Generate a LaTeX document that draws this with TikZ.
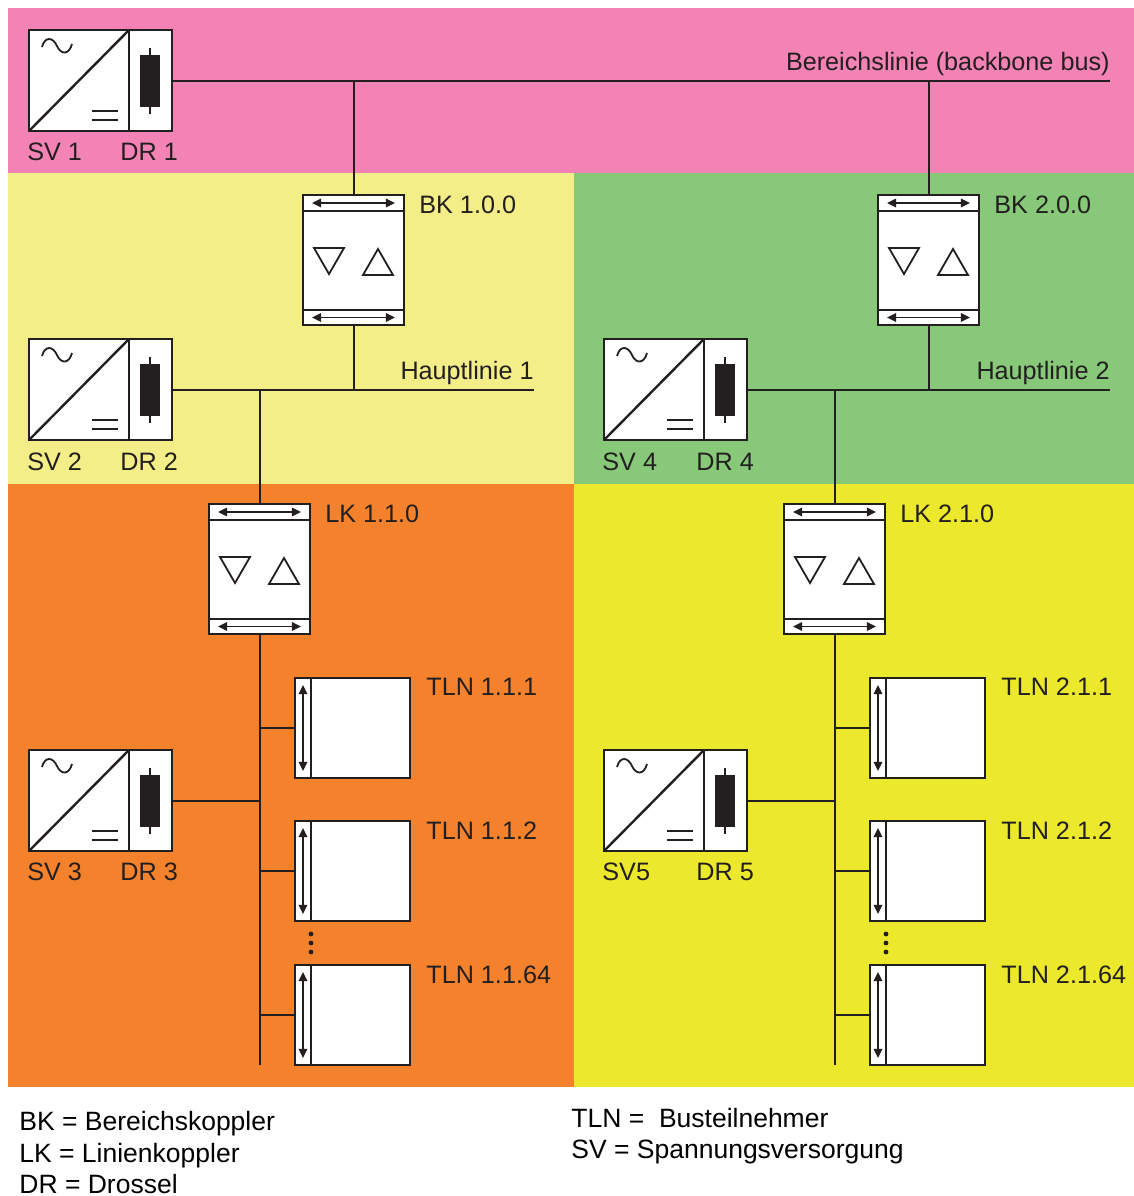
\documentclass[tikz,border=0pt]{standalone}
\usepackage{fontspec}
\setmainfont{Liberation Sans}
\usetikzlibrary{arrows.meta}
\definecolor{cpink}{HTML}{F283B4}
\definecolor{clyel}{HTML}{F3EE88}
\definecolor{cgreen}{HTML}{87C879}
\definecolor{corange}{HTML}{F4822D}
\definecolor{cyel}{HTML}{ECE82B}
\definecolor{ink}{HTML}{231F20}
\tikzset{
  box/.style={draw=ink, line width=1.3pt, fill=white, inner sep=0pt, outer sep=0pt},
  boxline/.style={draw=ink, line width=1.3pt},
  bus/.style={draw=ink, line width=1pt},
  dbl/.style={draw=ink, line width=0.8pt, {Triangle[length=4.6pt,width=4.3pt]}-{Triangle[length=4.6pt,width=4.3pt]}},
  tri/.style={draw=ink, line width=0.9pt, line join=miter},
  lab/.style={font=\fontsize{12.6}{14}\selectfont, inner sep=0pt, text=ink},
  leg/.style={font=\fontsize{13.25}{15}\selectfont, inner sep=0pt, text=black, anchor=base west},
  pics/svdr/.style={code={
    \node[box, minimum width=50pt, minimum height=50.5pt, anchor=north west] (-sv) at (0,0) {};
    \node[box, minimum width=21.5pt, minimum height=50.5pt, anchor=north west] (-dr) at (-sv.north east) {};
    \draw[draw=ink, line width=1.2pt] (-sv.south west) -- (-sv.north east);
    \draw[draw=ink, line width=0.9pt] (13,17) .. controls (16,6) and (24,7) .. (28,16) .. controls (32,25) and (40,25) .. (43,14);
    \draw[draw=ink, line width=0.9pt] (63,81) -- (89,81) (63,90) -- (89,90);
    \draw[draw=ink, line width=0.8pt] (121,18) -- (121,84);
    \fill[ink] (111,25) rectangle (131,77);
  }},
  pics/coupler/.style={code={
    \node[box, minimum width=50.5pt, minimum height=65pt, anchor=north west] (-b) at (0,0) {};
    \draw[boxline] (0,16) -- (101,16) (0,115) -- (101,115);
    \draw[dbl] (9,8) -- (92,8);
    \draw[dbl] (9,122.5) -- (92,122.5);
    \draw[tri] (11,53) -- (41,53) -- (26,79) -- cycle;
    \draw[tri] (60,80) -- (90,80) -- (75,54) -- cycle;
  }},
  pics/tln/.style={code={
    \node[box, minimum width=57.5pt, minimum height=50pt, anchor=north west] (-t) at (0,0) {};
    \draw[boxline] (16,0) -- (16,100);
    \draw[dbl] (8,7) -- (8,93);
  }}
}
\begin{document}
\begin{tikzpicture}[x=0.5pt,y=-0.5pt]
\useasboundingbox (0,0) rectangle (1134,1196);
\fill[white] (0,0) rectangle (1134,1196);
% colored areas
\fill[cpink] (8,8) rectangle (1134,173);
\fill[clyel] (8,173) rectangle (574,484);
\fill[cgreen] (574,173) rectangle (1134,484);
\fill[corange] (8,484) rectangle (574,1087);
\fill[cyel] (574,484) rectangle (1134,1087);

% components
\pic (sv1) at (29,30) {svdr};
\pic (sv2) at (29,339) {svdr};
\pic (sv3) at (29,750) {svdr};
\pic (sv4) at (604,339) {svdr};
\pic (sv5) at (604,750) {svdr};
\pic (bk1) at (303,195) {coupler};
\pic (bk2) at (878,195) {coupler};
\pic (lk1) at (209,504) {coupler};
\pic (lk2) at (784,504) {coupler};
\pic (t11) at (295,678) {tln};
\pic (t12) at (295,821) {tln};
\pic (t13) at (295,965) {tln};
\pic (t21) at (870,678) {tln};
\pic (t22) at (870,821) {tln};
\pic (t23) at (870,965) {tln};

% lines
\coordinate (bbend) at (1110,80.5);
\coordinate (h1end) at (534,389.5);
\coordinate (h2end) at (1110,389.5);
\draw[bus] (sv1-dr.east) -- (bbend);
\draw[bus] (bk1-b.north) -- (bk1-b.north |- bbend);
\draw[bus] (bk2-b.north) -- (bk2-b.north |- bbend);
\draw[bus] (sv2-dr.east) -- (h1end);
\draw[bus] (sv4-dr.east) -- (h2end);
\draw[bus] (bk1-b.south) -- (bk1-b.south |- h1end);
\draw[bus] (bk2-b.south) -- (bk2-b.south |- h2end);
\draw[bus] (lk1-b.north) -- (lk1-b.north |- h1end);
\draw[bus] (lk2-b.north) -- (lk2-b.north |- h2end);
\draw[bus] (lk1-b.south) -- (lk1-b.south |- t13-t.south);
\draw[bus] (lk2-b.south) -- (lk2-b.south |- t23-t.south);
\foreach \t in {t11,t12,t13}{\draw[bus] (\t-t.west) -- (\t-t.west -| lk1-b.south);}
\foreach \t in {t21,t22,t23}{\draw[bus] (\t-t.west) -- (\t-t.west -| lk2-b.south);}
\draw[bus] (sv3-dr.east) -- (sv3-dr.east -| lk1-b.south);
\draw[bus] (sv5-dr.east) -- (sv5-dr.east -| lk2-b.south);

% dots
\foreach \y in {934,943,952}{
  \fill[ink] (311,\y) circle[radius=1.2pt];
  \fill[ink] (886,\y) circle[radius=1.2pt];
}

% labels
\node[lab, anchor=base east] (lbb) at (1110,70) {Bereichslinie (backbone bus)};
\node[lab, anchor=base east] (lh1) at (534,379) {Hauptlinie 1};
\node[lab, anchor=base east] (lh2) at (1110,379) {Hauptlinie 2};
\node[lab, anchor=base west] (lsv1) at (27,160) {SV 1};
\node[lab, anchor=base west] (ldr1) at (120,160) {DR 1};
\node[lab, anchor=base west] (lsv2) at (27,470) {SV 2};
\node[lab, anchor=base west] (ldr2) at (120,470) {DR 2};
\node[lab, anchor=base west] (lsv3) at (27,880) {SV 3};
\node[lab, anchor=base west] (ldr3) at (120,880) {DR 3};
\node[lab, anchor=base west] (lsv4) at (602,470) {SV 4};
\node[lab, anchor=base west] (ldr4) at (696,470) {DR 4};
\node[lab, anchor=base west] (lsv5) at (602,880) {SV5};
\node[lab, anchor=base west] (ldr5) at (696,880) {DR 5};
\node[lab, anchor=base west] (lbk1) at (419,213) {BK 1.0.0};
\node[lab, anchor=base west] (lbk2) at (994,213) {BK 2.0.0};
\node[lab, anchor=base west] (llk1) at (325,522) {LK 1.1.0};
\node[lab, anchor=base west] (llk2) at (900,522) {LK 2.1.0};
\node[lab, anchor=base west] (lt11) at (426,695) {TLN 1.1.1};
\node[lab, anchor=base west] (lt12) at (426,839) {TLN 1.1.2};
\node[lab, anchor=base west] (lt13) at (426,983) {TLN 1.1.64};
\node[lab, anchor=base west] (lt21) at (1001,695) {TLN 2.1.1};
\node[lab, anchor=base west] (lt22) at (1001,839) {TLN 2.1.2};
\node[lab, anchor=base west] (lt23) at (1001,983) {TLN 2.1.64};

% legend
\node[leg] (g1) at (19,1130) {BK = Bereichskoppler};
\node[leg] (g2) at (19,1162) {LK = Linienkoppler};
\node[leg] (g3) at (19,1193) {DR = Drossel};
\node[leg] (g4) at (571,1127) {TLN =\ \ Busteilnehmer};
\node[leg] (g5) at (571,1158) {SV = Spannungsversorgung};
\end{tikzpicture}
\end{document}
